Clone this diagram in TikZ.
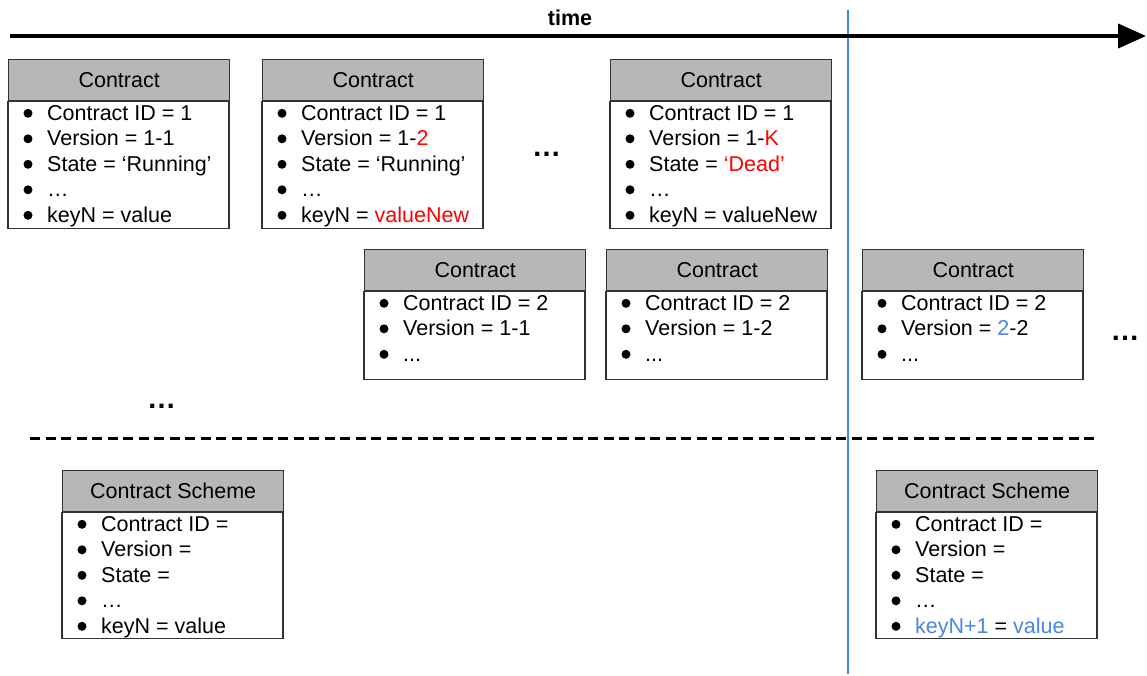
\documentclass[tikz,border=0pt]{standalone}
\usepackage{fontspec}
\setmainfont{Liberation Sans}
\usetikzlibrary{arrows.meta,calc}
\definecolor{hdrgray}{HTML}{B7B7B7}
\definecolor{edgegray}{HTML}{333333}
\definecolor{accred}{HTML}{FF0000}
\definecolor{accblue}{HTML}{4A86E8}

\tikzset{
  txt/.style={font=\fontsize{21.5pt}{25.5pt}\selectfont, inner sep=0pt},
  boldtxt/.style={font=\bfseries\fontsize{21.5pt}{25.5pt}\selectfont, inner sep=0pt},
  gaptxt/.style={font=\bfseries\fontsize{29pt}{30pt}\selectfont, inner sep=0pt, anchor=base},
  headbox/.style={txt, draw=edgegray, line width=1.3pt, fill=hdrgray,
    minimum width=221pt, minimum height=41pt, anchor=north west},
  bodybox/.style={draw=edgegray, line width=1.3pt, fill=white,
    minimum width=221pt, anchor=north west, inner sep=0pt, outer sep=0pt},
  itemtext/.style={txt, anchor=base west},
  dot/.style={circle, fill=black, minimum size=9pt, inner sep=0pt},
  timeline/.style={line width=4pt, -{Triangle[length=28pt,width=24pt]}},
  nowline/.style={draw=accblue, line width=2pt},
  divider/.style={line width=3pt, dash pattern=on 10pt off 5.5pt},
}

% record box: name, left x, top y, body height, title, list of entries
\newcommand\recordbox[6]{%
  \node[headbox] (#1-head) at (#2,#3) {#5};
  \node[bodybox, minimum height=#4] (#1-body) at (#1-head.south west) {};
  \foreach \entry [count=\k] in {#6} {
    \node[itemtext] (#1-item\k) at ($(#1-body.north west)+(39,{19+25.5*(\k-1)})$) {\entry};
    \node[dot] (#1-bullet\k) at ($(#1-body.north west)+(20,{12+25.5*(\k-1)})$) {};
  }%
}
\newcommand\tridots{.\kern0pt.\kern0pt.}

\begin{document}
\begin{tikzpicture}[x=1pt,y=-1pt]
  \useasboundingbox (0,0) rectangle (1147,675);

  % vertical "now" marker
  \coordinate (now-top) at (847.5,10);
  \coordinate (now-bottom) at (847.5,674);
  \draw[nowline] (now-top) -- (now-bottom);

  % time axis
  \coordinate (axis-start) at (10,36);
  \coordinate (axis-end) at (1146,36);
  \draw[timeline] (axis-start) -- (axis-end);
  \node[boldtxt] (timelabel) at (570,18) {time};

  % separator between instances and schemes
  \coordinate (sep-left) at (30,438);
  \coordinate (sep-right) at (1095,438);
  \draw[divider] (sep-left) -- (sep-right);

  % contract 1 versions
  \recordbox{c1a}{8}{59}{127}{Contract}{Contract ID = 1, Version = 1-1, State = ‘Running’, …, keyN = value}
  \recordbox{c1b}{262}{59}{127}{Contract}{Contract ID = 1, Version = 1-\textcolor{accred}{2}, State = ‘Running’, …, keyN = \textcolor{accred}{valueNew}}
  \recordbox{c1k}{610}{59}{127}{Contract}{Contract ID = 1, Version = 1-\textcolor{accred}{K}, State = \textcolor{accred}{‘Dead’}, …, keyN = valueNew}

  % contract 2 versions
  \recordbox{c2a}{364}{249}{88}{Contract}{Contract ID = 2, Version = 1-1, \tridots}
  \recordbox{c2b}{606}{249}{88}{Contract}{Contract ID = 2, Version = 1-2, \tridots}
  \recordbox{c2c}{862}{249}{88}{Contract}{Contract ID = 2, Version = \textcolor{accblue}{2}-2, \tridots}

  % schemes
  \recordbox{s1}{62}{470}{126}{Contract Scheme}{Contract ID =, Version =, State =, …, keyN = value}
  \recordbox{s2}{876}{470}{126}{Contract Scheme}{Contract ID =, Version =, State =, …, \textcolor{accblue}{keyN+1} = \textcolor{accblue}{value}}

  % elisions
  \node[gaptxt] (gap1) at (546.5,156) {…};
  \node[gaptxt] (gap2) at (1125,340) {…};
  \node[gaptxt] (gap3) at (161.5,408) {…};
\end{tikzpicture}
\end{document}
